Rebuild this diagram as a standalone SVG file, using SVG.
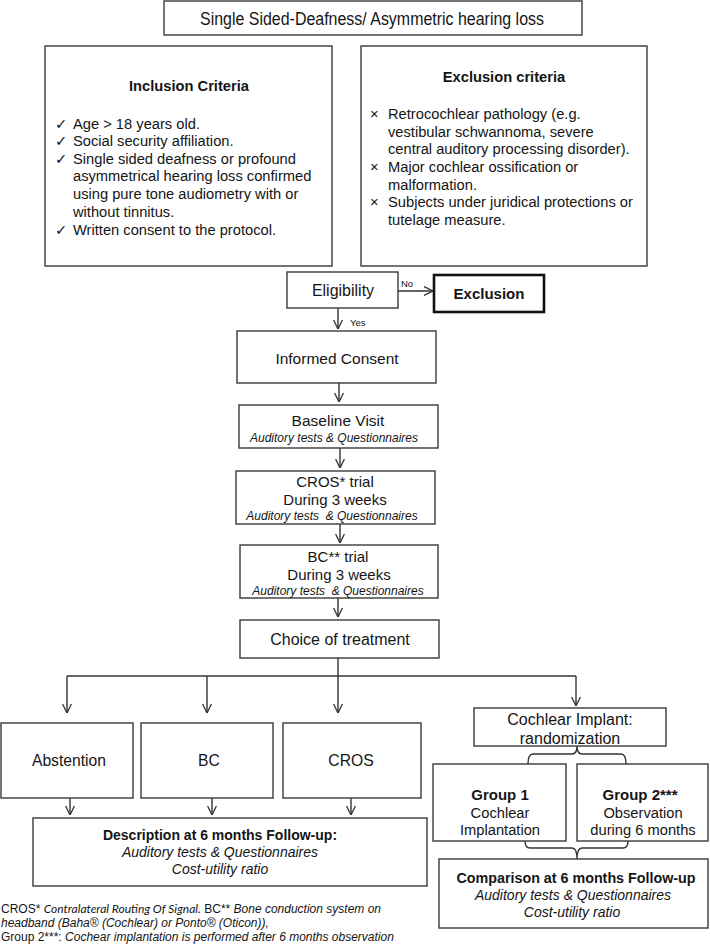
<svg xmlns="http://www.w3.org/2000/svg" width="710" height="944" viewBox="0 0 710 944">
<defs>
<style>
.box{fill:#fff;stroke:#3a3a3a;stroke-width:1.4}
.thick{fill:#fff;stroke:#111;stroke-width:2.6}
.t{font-family:'Liberation Sans',Arial,'DejaVu Sans',sans-serif;fill:#151515}
.c{text-anchor:middle}
.b{font-weight:bold}
.i{font-style:italic}
.ln{fill:none;stroke:#333;stroke-width:1.4}
.ar{fill:none;stroke:#333;stroke-width:1.4;marker-end:url(#ah)}
.fn{font-family:'Liberation Sans',Arial,sans-serif;font-size:12px;fill:#151515}
.cal{font-family:Lato,'Liberation Sans',sans-serif;font-style:italic}
</style>
<marker id="ah" viewBox="0 0 10 10" refX="9.6" refY="5" markerWidth="10" markerHeight="10" markerUnits="userSpaceOnUse" orient="auto">
<path d="M0.6,0.6 L9.6,5 L0.6,9.4" fill="none" stroke="#333" stroke-width="1.3"/>
</marker>
</defs>
<rect width="710" height="944" fill="#fff"/>

<g id="connectors">
<line class="ar" x1="398" y1="291" x2="433" y2="291"/>
<line class="ar" x1="338" y1="308" x2="338" y2="329"/>
<line class="ar" x1="339" y1="383" x2="339" y2="402"/>
<line class="ar" x1="340" y1="448" x2="340" y2="468"/>
<line class="ar" x1="340" y1="524" x2="340" y2="543"/>
<line class="ar" x1="338" y1="598" x2="338" y2="617"/>
<line class="ar" x1="338" y1="658" x2="338" y2="713"/>
<polyline class="ln" points="67,676 576,676"/>
<line class="ar" x1="67" y1="676" x2="67" y2="713"/>
<line class="ar" x1="207" y1="676" x2="207" y2="713"/>
<line class="ar" x1="576" y1="676" x2="576" y2="706"/>
<line class="ar" x1="70" y1="798" x2="70" y2="815"/>
<line class="ar" x1="212" y1="798" x2="212" y2="815"/>
<line class="ar" x1="351" y1="798" x2="351" y2="815"/>
<path class="ln" d="M528,764 Q528,754 533,754 L572,754 Q577,754 577,746 Q577,754 582,754 L621,754 Q626,754 626,764"/>
<path class="ln" d="M525,841 Q525,848 530,848 L572,848 Q577,848 577,859 Q577,848 582,848 L623,848 Q628,848 628,841"/>
<text class="t" x="401" y="287" font-size="9.5">No</text>
<text class="t" x="350" y="326" font-size="9.5">Yes</text>
</g>

<g id="top">
<rect class="box" x="164" y="1" width="418" height="34"/>
<text class="t c" x="372" y="24.5" font-size="17.5" textLength="344" lengthAdjust="spacingAndGlyphs">Single Sided-Deafness/ Asymmetric hearing loss</text>
</g>

<g id="inclusion">
<rect class="box" x="45" y="46" width="287" height="220"/>
<text class="t c b" x="189" y="91" font-size="14.7">Inclusion Criteria</text>
<g class="t" font-size="14.7">
<text x="55" y="128.5">✓</text><text x="73" y="128.5">Age &gt; 18 years old.</text>
<text x="55" y="146">✓</text><text x="73" y="146">Social security affiliation.</text>
<text x="55" y="163.5">✓</text><text x="73" y="163.5">Single sided deafness or profound</text>
<text x="73" y="181">asymmetrical hearing loss confirmed</text>
<text x="73" y="199">using pure tone audiometry with or</text>
<text x="73" y="216.5">without tinnitus.</text>
<text x="55" y="234.5">✓</text><text x="73" y="234.5">Written consent to the protocol.</text>
</g>
</g>

<g id="exclusion-criteria">
<rect class="box" x="361" y="46" width="286" height="220"/>
<text class="t c b" x="504" y="82" font-size="14.7">Exclusion criteria</text>
<g class="t" font-size="14.7">
<text x="370" y="119">×</text><text x="388" y="119">Retrocochlear pathology (e.g.</text>
<text x="388" y="136.5">vestibular schwannoma, severe</text>
<text x="388" y="154">central auditory processing disorder).</text>
<text x="370" y="171.5">×</text><text x="388" y="171.5">Major cochlear ossification or</text>
<text x="388" y="189.5">malformation.</text>
<text x="370" y="207">×</text><text x="388" y="207">Subjects under juridical protections or</text>
<text x="388" y="224.5">tutelage measure.</text>
</g>
</g>

<g id="eligibility">
<rect class="box" x="287" y="272" width="111" height="36"/>
<text class="t c" x="343" y="295.5" font-size="16">Eligibility</text>
</g>

<g id="exclusion">
<rect class="thick" x="434" y="275" width="110" height="37"/>
<text class="t c b" x="489" y="298.5" font-size="15">Exclusion</text>
</g>

<g id="consent">
<rect class="box" x="237" y="331" width="199" height="52"/>
<text class="t c" x="337" y="363.5" font-size="15.5">Informed Consent</text>
</g>

<g id="baseline">
<rect class="box" x="239" y="405" width="199" height="43"/>
<text class="t c" x="338" y="425.5" font-size="15.5">Baseline Visit</text>
<text class="t c i" x="334" y="441.5" font-size="12">Auditory tests &amp; Questionnaires</text>
</g>

<g id="cros-trial">
<rect class="box" x="236" y="471" width="199" height="53"/>
<text class="t c" x="335" y="487" font-size="15">CROS* trial</text>
<text class="t c" x="335" y="504.5" font-size="15">During 3 weeks</text>
<text class="t c i" x="332" y="519.5" font-size="12" xml:space="preserve">Auditory tests  &amp; Questionnaires</text>
</g>

<g id="bc-trial">
<rect class="box" x="240" y="545" width="198" height="53"/>
<text class="t c" x="338" y="562" font-size="15">BC** trial</text>
<text class="t c" x="339" y="580" font-size="15">During 3 weeks</text>
<text class="t c i" x="338" y="594.5" font-size="12" xml:space="preserve">Auditory tests  &amp; Questionnaires</text>
</g>

<g id="choice">
<rect class="box" x="240" y="620" width="199" height="38"/>
<text class="t c" x="340" y="644.5" font-size="16">Choice of treatment</text>
</g>

<g id="abstention">
<rect class="box" x="1" y="723" width="132" height="75"/>
<text class="t c" x="69" y="766" font-size="15.7">Abstention</text>
</g>

<g id="bc">
<rect class="box" x="141" y="723" width="132" height="75"/>
<text class="t c" x="209" y="766" font-size="15.7">BC</text>
</g>

<g id="cros">
<rect class="box" x="283" y="723" width="138" height="75"/>
<text class="t c" x="351" y="766" font-size="15.7">CROS</text>
</g>

<g id="cochlear">
<rect class="box" x="474" y="708" width="192" height="38"/>
<text class="t c" x="570" y="724.5" font-size="16">Cochlear Implant:</text>
<text class="t c" x="570" y="743.5" font-size="16">randomization</text>
</g>

<g id="group1">
<rect class="box" x="433" y="764" width="133" height="77"/>
<text class="t c b" x="500" y="800" font-size="15">Group 1</text>
<text class="t c" x="500" y="818" font-size="14.7">Cochlear</text>
<text class="t c" x="500" y="835" font-size="14.7">Implantation</text>
</g>

<g id="group2">
<rect class="box" x="577" y="764" width="131" height="77"/>
<text class="t c b" x="640" y="800" font-size="15">Group 2***</text>
<text class="t c" x="643" y="818" font-size="14.7">Observation</text>
<text class="t c" x="643" y="835" font-size="14.7">during 6 months</text>
</g>

<g id="description">
<rect class="box" x="33" y="818" width="394" height="68"/>
<text class="t c b" x="220" y="840" font-size="14">Description at 6 months Follow-up:</text>
<text class="t c i" x="220" y="857" font-size="14">Auditory tests &amp; Questionnaires</text>
<text class="t c i" x="220" y="874" font-size="14">Cost-utility ratio</text>
</g>

<g id="comparison">
<rect class="box" x="439" y="859" width="269" height="69"/>
<text class="t c b" x="576" y="883" font-size="14.3">Comparison at 6 months Follow-up</text>
<text class="t c i" x="573" y="900" font-size="14">Auditory tests &amp; Questionnaires</text>
<text class="t c i" x="572" y="917" font-size="14">Cost-utility ratio</text>
</g>

<g id="footnote">
<text class="fn" x="1" y="913">CROS* <tspan class="cal">Contralateral Routing Of Signal.</tspan> BC** <tspan font-style="italic">Bone conduction system on</tspan></text>
<text class="fn" x="1" y="927" font-style="italic">headband (Baha® (Cochlear) or Ponto® (Oticon)),</text>
<text class="fn" x="1" y="941">Group 2***: <tspan font-style="italic">Cochear implantation is performed after 6 months observation</tspan></text>
</g>
</svg>
